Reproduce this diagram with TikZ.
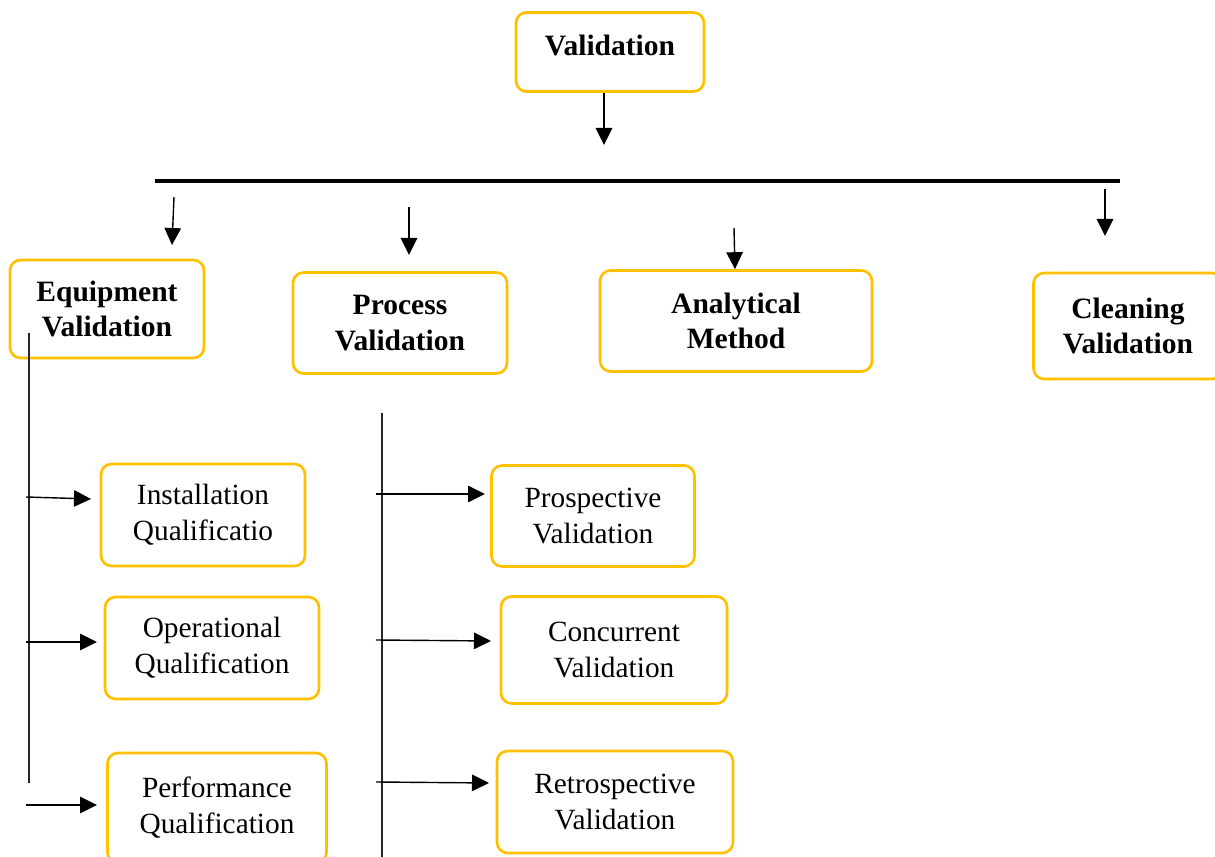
\documentclass[tikz,border=0pt]{standalone}
\usepackage{fontspec}
\setmainfont{Liberation Serif}
\usetikzlibrary{arrows.meta, positioning}
\definecolor{cgold}{HTML}{FFC000}
\tikzset{
  every picture/.style={line width=0.8pt},
  box/.style={draw=cgold, line width=1.5pt, rounded corners=6pt, align=center, inner sep=2pt,
    font=\fontsize{16.7}{20.5}\selectfont},
  headbox/.style={box, font=\fontsize{16.8}{20}\selectfont\bfseries},
  arrow/.style={-{Triangle[length=0.34cm, width=0.33cm]}, draw=black},
  rail/.style={draw=black!85},
}
\begin{document}
\begin{tikzpicture}[x=0.02cm, y=-0.02cm]
  \useasboundingbox (0,0) rectangle (1215,857);
  % top
  \node[headbox, minimum width=3.76cm, minimum height=1.58cm, text depth=8pt] (valid) at (610,52) {Validation};
  \coordinate (top-end) at (604,145);
  \draw[arrow] (valid.south -| top-end) -- (top-end);
  \coordinate (bar-l) at (155,181);
  \coordinate (bar-r) at (1120,181);
  \draw[line width=2.2pt] (bar-l) -- (bar-r);

  % second row
  \node[headbox, minimum width=3.88cm, minimum height=1.96cm] (equip) at (107,309) {Equipment\\Validation};
  \node[headbox, minimum width=4.28cm, minimum height=2.02cm] (proc) at (400,323) {Process\\Validation};
  \node[headbox, minimum width=5.44cm, minimum height=2.02cm] (anal) at (736,321) {Analytical\\Method};
  \node[headbox, minimum width=3.78cm, minimum height=2.12cm] (clean) at (1128,326) {Cleaning\\Validation};

  \coordinate (eq-a) at (174,197); \coordinate (eq-b) at (172,245);
  \coordinate (pr-a) at (409,207); \coordinate (pr-b) at (409,255);
  \coordinate (an-a) at (734,228);
  \coordinate (cl-a) at (1105,189); \coordinate (cl-b) at (1105,236);
  \draw[arrow] (eq-a) -- (eq-b);
  \draw[arrow] (pr-a) -- (pr-b);
  \draw[arrow] (an-a) -- (anal.north -| 735,0);
  \draw[arrow] (cl-a) -- (cl-b);

  % equipment branch
  \node[box, minimum width=4.08cm, minimum height=2.04cm] (iq) at (203,515) {Installation\\Qualificatio};
  \node[box, minimum width=4.28cm, minimum height=2.04cm] (oq) at (212,648) {Operational\\Qualification};
  \node[box, minimum width=4.38cm, minimum height=2.2cm] (pq) at (217,808) {Performance\\Qualification};
  \coordinate (eq-rail) at (29,783);
  \draw[rail] (29,333) -- (eq-rail);
  \coordinate (iq-t) at (26,497); \coordinate (oq-t) at (26,642); \coordinate (pq-t) at (26,805);
  \draw[arrow] (iq-t) -- (91,499);
  \draw[arrow] (oq-t) -- (97,642);
  \draw[arrow] (pq-t) -- (97,805);

  % process branch
  \node[box, minimum width=4.06cm, minimum height=2.02cm] (pv) at (593,516) {Prospective\\Validation};
  \node[box, minimum width=4.52cm, minimum height=2.14cm] (cv) at (614,650) {Concurrent\\Validation};
  \node[box, minimum width=4.72cm, minimum height=2.04cm] (rv) at (615,802) {Retrospective\\Validation};
  \coordinate (pr-rail) at (382,413);
  \draw[rail] (pr-rail) -- (382,857);
  \coordinate (pv-t) at (376,494); \coordinate (cv-t) at (376,640); \coordinate (rv-t) at (376,782);
  \draw[arrow] (pv-t) -- (485,494);
  \draw[arrow] (cv-t) -- (491,641);
  \draw[arrow] (rv-t) -- (489,783);
\end{tikzpicture}
\end{document}
